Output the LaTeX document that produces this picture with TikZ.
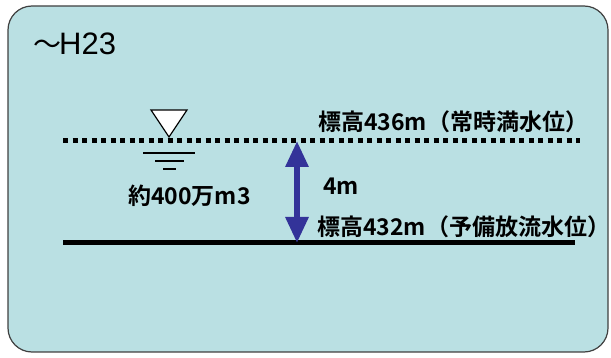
\documentclass[tikz,border=0pt]{standalone}
\usepackage{fontspec}
\setmainfont{Liberation Sans}
\newfontfamily\cjk{Noto Sans CJK JP}[BoldFont={* Bold}]
\usetikzlibrary{arrows.meta}
\definecolor{bgfill}{HTML}{BAE0E3}
\definecolor{arrowblue}{HTML}{333399}
\begin{document}
\begin{tikzpicture}[x=1pt,y=-1pt,
  frame/.style={draw=black!75, line width=1.2pt, fill=bgfill, rounded corners=24pt},
  lbl/.style={inner sep=0pt, anchor=west, font=\cjk\bfseries\fontsize{23}{26}\selectfont},
  dotline/.style={line width=5pt, dash pattern=on 5pt off 4.5pt},
  solidline/.style={line width=5pt},
  gline/.style={line width=1.2pt},
  dimarrow/.style={draw=arrowblue, line width=6pt, {Triangle[width=22pt,length=26pt,fill=arrowblue]}-{Triangle[width=22pt,length=26pt,fill=arrowblue]}, shorten <=0pt, shorten >=0pt}
]
\useasboundingbox (0,0) rectangle (611,358);
\path[frame] (8,6) rectangle (608,352);
\node[inner sep=0pt, anchor=west, font=\fontsize{31}{34}\selectfont] (era) at (33,44) {{\cjk\fontsize{28}{30}\selectfont 〜}\hspace{-2pt}H23};
% water level markers
\coordinate (tl) at (151,110);
\coordinate (tr) at (187,110);
\coordinate (tb) at (169,137);
\draw[line width=1.2pt, fill=white] (tl) -- (tr) -- (tb) -- cycle;
\coordinate (d1) at (63,141);
\coordinate (d2) at (580,141);
\draw[dotline] (d1) -- (d2);
\coordinate (g1a) at (143,153); \coordinate (g1b) at (195,153);
\coordinate (g2a) at (155,161); \coordinate (g2b) at (184,161);
\coordinate (g3a) at (163,169); \coordinate (g3b) at (176,169);
\draw[gline] (g1a) -- (g1b);
\draw[gline] (g2a) -- (g2b);
\draw[gline] (g3a) -- (g3b);
\coordinate (s1) at (63,243);
\coordinate (s2) at (575,243);
\draw[solidline] (s1) -- (s2);
% dimension arrow
\coordinate (atop) at (297,141);
\coordinate (abot) at (297,243);
\draw[dimarrow] (atop) -- (abot);
% labels
\node[lbl] (hw) at (318,122) {標高436m（常時満水位）};
\node[lbl] (dm) at (323,186) {4m};
\node[lbl] (vol) at (128,196) {約400万m3};
\node[lbl] (lw) at (317,227) {標高432m（予備放流水位）};
\end{tikzpicture}
\end{document}
